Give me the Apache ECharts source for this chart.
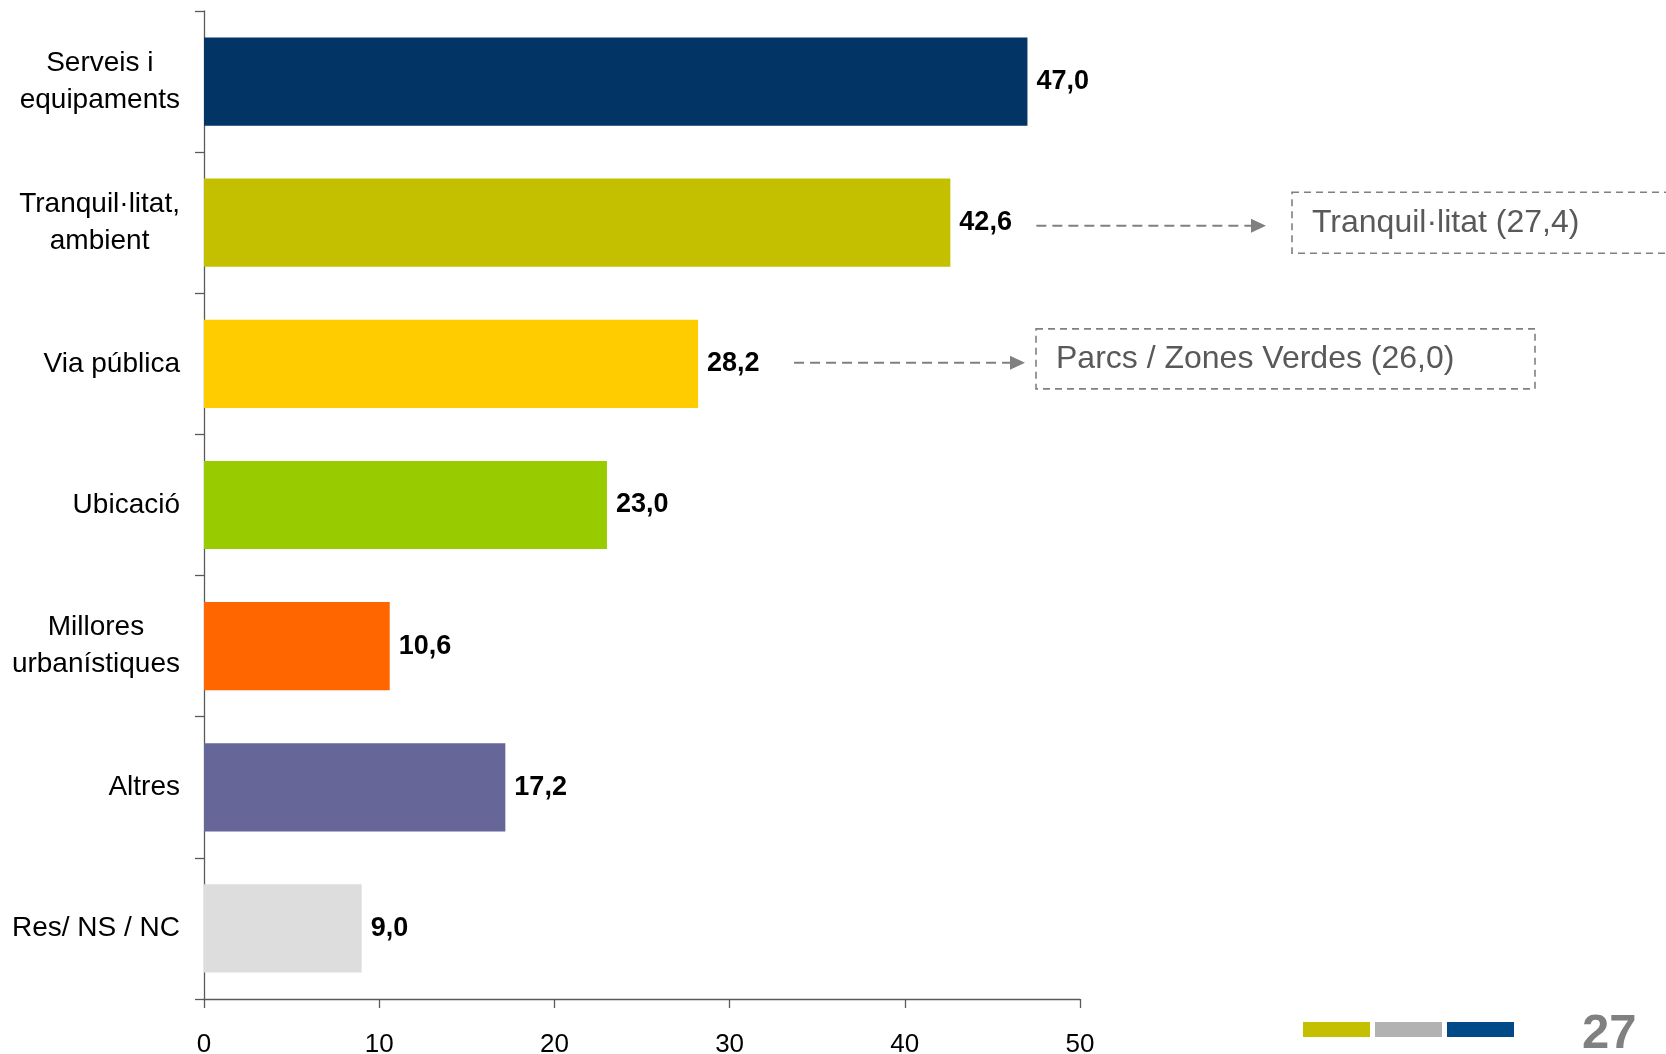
<!DOCTYPE html>
<html><head><meta charset="utf-8">
<script src="https://cdn.jsdelivr.net/npm/echarts@6/dist/echarts.min.js"></script>
<style>html,body{margin:0;padding:0;background:#fff}#c{width:1666px;height:1054px}</style>
</head><body><div id="c"></div>
<script>
// ---- data ----
const categories = ['Serveis i\nequipaments', 'Tranquil·litat,\nambient', 'Via pública', 'Ubicació', 'Millores\nurbanístiques', 'Altres', 'Res/ NS / NC'];
const values = [47.0, 42.6, 28.2, 23.0, 10.6, 17.2, 9.0];
const barColors = ['#023466', '#C4C000', '#FFCC00', '#99CC00', '#FF6600', '#666699', '#DDDDDD'];
const xTickLabels = ['0', '10', '20', '30', '40', '50'];
const noteTexts = ['Tranquil·litat (27,4)', 'Parcs / Zones Verdes (26,0)'];
const noteCategoryIndex = [1, 2];
const footerColors = ['#C4C000', '#B2B2B2', '#004B87'];
const pageNumber = '27';

// ---- layout (not data) ----
const noteLayout = [
  {startOff: 86, arrowEnd: 1266, boxX: 1292, boxW: 420, boxH: 61, dy: 3, boxDy: 0},
  {startOff: 96, arrowEnd: 1025, boxX: 1036, boxW: 499, boxH: 60, dy: -1, boxDy: -5}
];

const FONT = '"Liberation Sans", Arial, sans-serif';
const chart = echarts.init(document.getElementById('c'), null, {renderer: 'canvas'});

const fmt = v => v.toFixed(1).replace('.', ',');

chart.setOption({
  animation: false,
  backgroundColor: '#fff',
  grid: {left: 204, right: 586, top: 11, bottom: 55, containLabel: false, outerBoundsMode: 'none'},
  xAxis: {
    type: 'value', min: 0, max: 50, interval: 10,
    splitLine: {show: false},
    axisLine: {show: true, lineStyle: {color: '#5a5a5a', width: 1.3}},
    axisTick: {show: true, length: 9, lineStyle: {color: '#5a5a5a', width: 1.3}},
    axisLabel: {
      margin: 33, color: '#000', fontSize: 26, fontFamily: FONT,
      formatter: (v) => xTickLabels[Math.round(v / 10)]
    }
  },
  yAxis: {
    type: 'category', inverse: true, data: categories,
    axisLine: {show: true, lineStyle: {color: '#5a5a5a', width: 1.3}},
    axisTick: {show: true, length: 9, lineStyle: {color: '#5a5a5a', width: 1.3}},
    axisLabel: {
      margin: 24, color: '#000', fontSize: 28, fontFamily: FONT, lineHeight: 37,
      formatter: (v) => v.split('\n').map(s => '{c|' + s + '}').join('\n'),
      rich: {c: {align: 'center', fontSize: 28, fontFamily: FONT, lineHeight: 37, color: '#000'}}
    }
  },
  series: [{
    type: 'bar',
    data: values.map((v, i) => ({value: v, itemStyle: {color: barColors[i]}})),
    barCategoryGap: '37.5%',
    label: {
      show: true, position: 'right', distance: 9,
      color: '#000', fontWeight: 'bold', fontSize: 27, fontFamily: FONT,
      formatter: (p) => fmt(p.value)
    }
  }]
});

// ---- annotations ----
const graphics = [];
noteTexts.forEach((t, k) => {
  const L = noteLayout[k];
  const ci = noteCategoryIndex[k];
  const p = chart.convertToPixel({gridIndex: 0}, [values[ci], ci]);
  const y = p[1] + L.dy;
  const x0 = p[0] + L.startOff;
  graphics.push({
    type: 'line', silent: true,
    shape: {x1: x0, y1: y, x2: L.arrowEnd - 13, y2: y},
    style: {stroke: '#808080', lineWidth: 2, lineDash: [10, 6]}
  });
  graphics.push({
    type: 'polygon', silent: true,
    shape: {points: [[L.arrowEnd - 15, y - 7], [L.arrowEnd, y], [L.arrowEnd - 15, y + 7]]},
    style: {fill: '#808080'}
  });
  const by = p[1] + L.boxDy - L.boxH / 2;
  graphics.push({
    type: 'rect', silent: true,
    shape: {x: L.boxX, y: by, width: L.boxW, height: L.boxH},
    style: {fill: 'none', stroke: '#808080', lineWidth: 1.6, lineDash: [7, 5]}
  });
  graphics.push({
    type: 'text', silent: true,
    x: L.boxX + 20, y: by + L.boxH / 2,
    style: {text: t, fill: '#595959', fontSize: 32, fontFamily: FONT, verticalAlign: 'middle', align: 'left'}
  });
});

// ---- footer ----
footerColors.forEach((c, i) => {
  graphics.push({
    type: 'rect', silent: true,
    shape: {x: 1303 + i * 72, y: 1022, width: 67, height: 15},
    style: {fill: c}
  });
});
graphics.push({
  type: 'text', silent: true, x: 1582, y: 1010,
  style: {text: pageNumber, fill: '#808080', fontSize: 49, fontWeight: 'bold', fontFamily: FONT, verticalAlign: 'top', align: 'left'}
});

chart.setOption({graphic: graphics});
</script>
</body></html>
